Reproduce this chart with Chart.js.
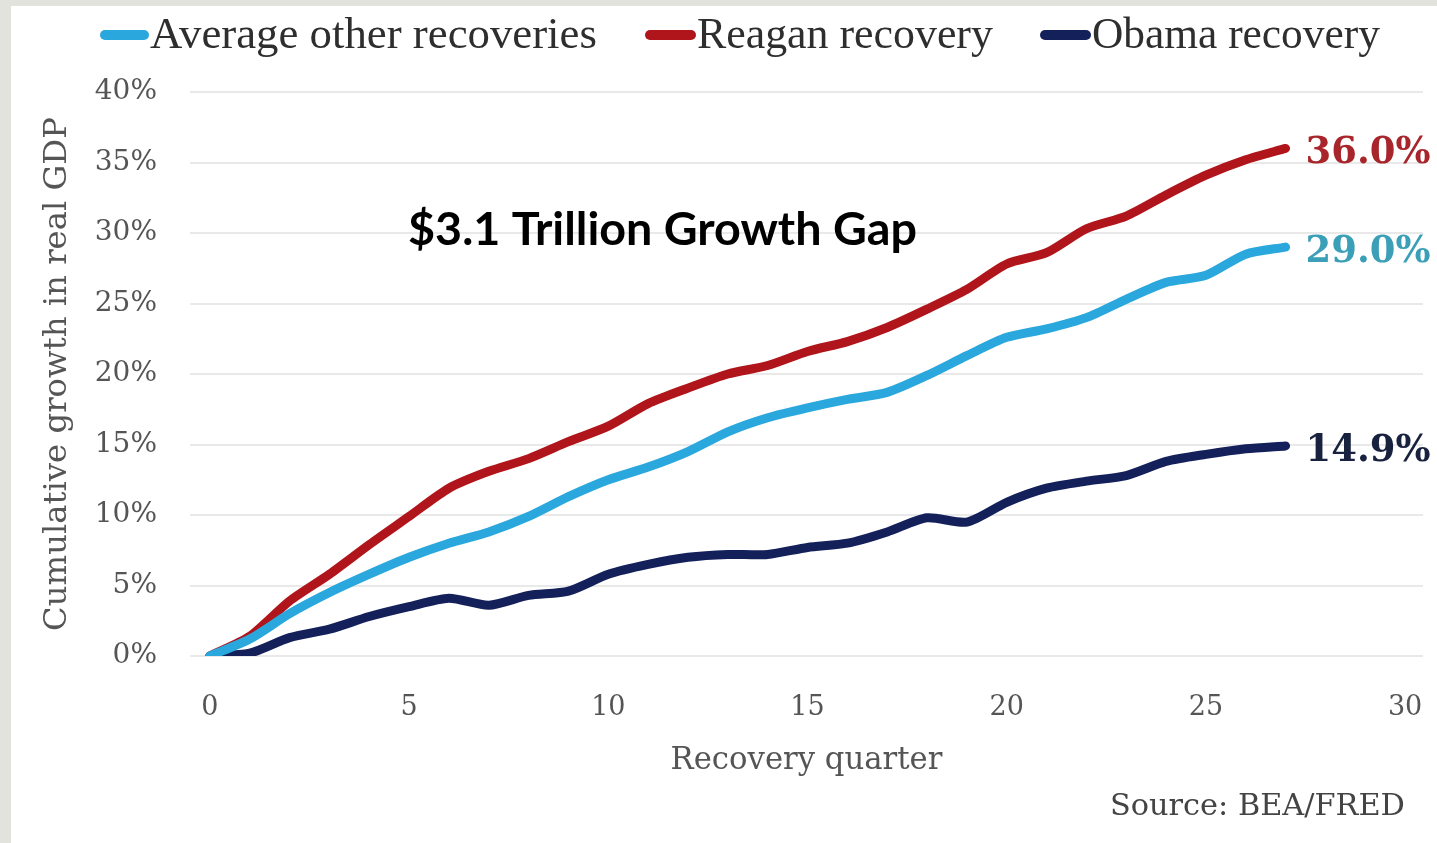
<!DOCTYPE html>
<html>
<head>
<meta charset="utf-8">
<script src="https://cdn.jsdelivr.net/npm/chart.js@4.4.1/dist/chart.umd.min.js"></script>
<style>
html, body { margin: 0; padding: 0; background: #e3e3dd; }
#wrap { position: absolute; left: 0; top: 0; width: 1437px; height: 843px; }
</style>
</head>
<body>
<div id="wrap"><canvas id="myChart" width="1437" height="843"></canvas></div>
<script>
// recovery quarter and cumulative growth (%)
const quarters = [0, 1, 2, 3, 4, 5, 6, 7, 8, 9, 10, 11, 12, 13, 14, 15, 16, 17, 18, 19, 20, 21, 22, 23, 24, 25, 26, 27];
const averageOther = [0, 1.2, 3.0, 4.5, 5.8, 7.0, 8.0, 8.8, 9.9, 11.3, 12.5, 13.4, 14.5, 15.9, 16.9, 17.6, 18.2, 18.7, 19.9, 21.3, 22.6, 23.2, 24.0, 25.3, 26.5, 27.0, 28.5, 29.0];
const reagan = [0, 1.4, 3.9, 5.8, 7.9, 9.9, 11.9, 13.1, 14.0, 15.2, 16.3, 17.9, 19.0, 20.0, 20.6, 21.6, 22.3, 23.3, 24.6, 26.0, 27.8, 28.6, 30.3, 31.2, 32.7, 34.1, 35.2, 36.0];
const obama = [0, 0.2, 1.3, 1.9, 2.8, 3.5, 4.1, 3.6, 4.3, 4.6, 5.8, 6.5, 7.0, 7.2, 7.2, 7.7, 8.0, 8.8, 9.8, 9.5, 10.9, 11.9, 12.4, 12.8, 13.8, 14.3, 14.7, 14.9];
const seriesNames = ['Average other recoveries', 'Reagan recovery', 'Obama recovery'];
const xTicks = [0, 5, 10, 15, 20, 25, 30];
const gapNote = '$3.1 Trillion Growth Gap';
const sourceNote = 'Source: BEA/FRED';

const lineColors = ['#2aa7dc', '#b0151b', '#14205a'];
const labelColors = ['#3b9fb8', '#a8262b', '#18223f'];

// font size that makes text fill a given width
const mctx = document.createElement('canvas').getContext('2d');
function fitSize(text, weight, family, width) {
    mctx.font = weight + ' 100px ' + family;
    return 100 * width / mctx.measureText(text).width;
}

function toPoints(values) {
    return quarters.map((q, i) => ({ x: q, y: values[i] }));
}

const serif = '"DejaVu Serif", serif';
const legendSerif = '"Liberation Serif", serif';

const background = {
    id: 'background',
    beforeDraw(chart) {
        const ctx = chart.ctx;
        ctx.save();
        ctx.fillStyle = '#e3e3dd';
        ctx.fillRect(0, 0, chart.width, chart.height);
        ctx.fillStyle = '#ffffff';
        ctx.fillRect(11, 6, chart.width - 11, chart.height - 6);
        ctx.restore();
    }
};

const extras = {
    id: 'extras',
    afterDatasetsDraw(chart) {
        const ctx = chart.ctx;
        ctx.save();

        // legend
        const legendPos = [[100, 150, 447], [645, 697, 296], [1040, 1092, 288]];
        chart.data.datasets.forEach((ds, i) => {
            const p = legendPos[i];
            ctx.strokeStyle = ds.borderColor;
            ctx.lineWidth = 10;
            ctx.lineCap = 'round';
            ctx.beginPath();
            ctx.moveTo(p[0] + 5, 35);
            ctx.lineTo(p[1] - 6, 35);
            ctx.stroke();
            const s = fitSize(ds.label, 'normal', legendSerif, p[2]);
            ctx.font = s + 'px ' + legendSerif;
            ctx.fillStyle = '#2e2e2e';
            ctx.textAlign = 'left';
            ctx.textBaseline = 'alphabetic';
            ctx.fillText(ds.label, p[1], 48);
        });

        // end values
        chart.data.datasets.forEach((ds, i) => {
            const meta = chart.getDatasetMeta(i);
            const last = meta.data[meta.data.length - 1];
            const txt = ds.data[ds.data.length - 1].y.toFixed(1) + '%';
            const s = fitSize('36.0%', 'bold', serif, 125);
            ctx.font = 'bold ' + s + 'px ' + serif;
            ctx.fillStyle = labelColors[i];
            ctx.textAlign = 'left';
            ctx.textBaseline = 'alphabetic';
            ctx.fillText(txt, last.x + 20, last.y + 15);
        });

        // annotation
        const fam = 'Lato, sans-serif';
        const gs = fitSize(gapNote, 'bold', fam, 509);
        ctx.font = 'bold ' + gs + 'px ' + fam;
        ctx.fillStyle = '#000000';
        ctx.textAlign = 'left';
        ctx.fillText(gapNote, 408, 245);

        // source
        const ss = fitSize(sourceNote, 'normal', serif, 295);
        ctx.font = ss + 'px ' + serif;
        ctx.fillStyle = '#444444';
        ctx.fillText(sourceNote, 1110, 815);

        ctx.restore();
    }
};

const ySize = fitSize('Cumulative growth in real GDP', 'normal', serif, 514);
const xSize = fitSize('Recovery quarter', 'normal', serif, 272);

new Chart(document.getElementById('myChart'), {
    type: 'line',
    data: {
        datasets: [
            { label: seriesNames[0], data: toPoints(averageOther), borderColor: lineColors[0] },
            { label: seriesNames[1], data: toPoints(reagan), borderColor: lineColors[1] },
            { label: seriesNames[2], data: toPoints(obama), borderColor: lineColors[2] }
        ].map(d => Object.assign(d, {
            borderWidth: 9,
            pointRadius: 0,
            tension: 0.25,
            fill: false,
            borderCapStyle: 'round',
            borderJoinStyle: 'round'
        }))
    },
    options: {
        responsive: false,
        animation: false,
        layout: { padding: { left: 0, top: 92, right: 14, bottom: 57 } },
        plugins: {
            legend: { display: false },
            tooltip: { enabled: false }
        },
        scales: {
            x: {
                type: 'linear',
                min: -0.5,
                max: 30.45,
                afterBuildTicks: (scale) => { scale.ticks = xTicks.map(v => ({ value: v })); },
                afterFit: (scale) => {
                    scale.height = 130;
                    scale.paddingLeft = 0;
                    scale.paddingRight = 0;
                },
                grid: { display: false, drawTicks: false },
                border: { display: false },
                ticks: {
                    padding: 36,
                    maxRotation: 0,
                    autoSkip: false,
                    color: '#555555',
                    font: { family: serif, size: 27 }
                },
                title: {
                    display: true,
                    text: 'Recovery quarter',
                    color: '#555555',
                    font: { family: serif, size: xSize },
                    padding: { top: 0, bottom: 7 }
                }
            },
            y: {
                min: 0,
                max: 40,
                afterFit: (scale) => {
                    scale.width = 190;
                    scale.paddingTop = 0;
                    scale.paddingBottom = 0;
                },
                grid: { color: '#e9e9e9', lineWidth: 2, drawTicks: false },
                border: { display: false },
                ticks: {
                    stepSize: 5,
                    padding: 33,
                    color: '#555555',
                    font: { family: serif, size: 28 },
                    callback: (v) => v + '%'
                },
                title: {
                    display: true,
                    text: 'Cumulative growth in real GDP',
                    color: '#555555',
                    font: { family: serif, size: ySize },
                    padding: { top: 38, bottom: 0 }
                }
            }
        }
    },
    plugins: [background, extras]
});
</script>
</body>
</html>
